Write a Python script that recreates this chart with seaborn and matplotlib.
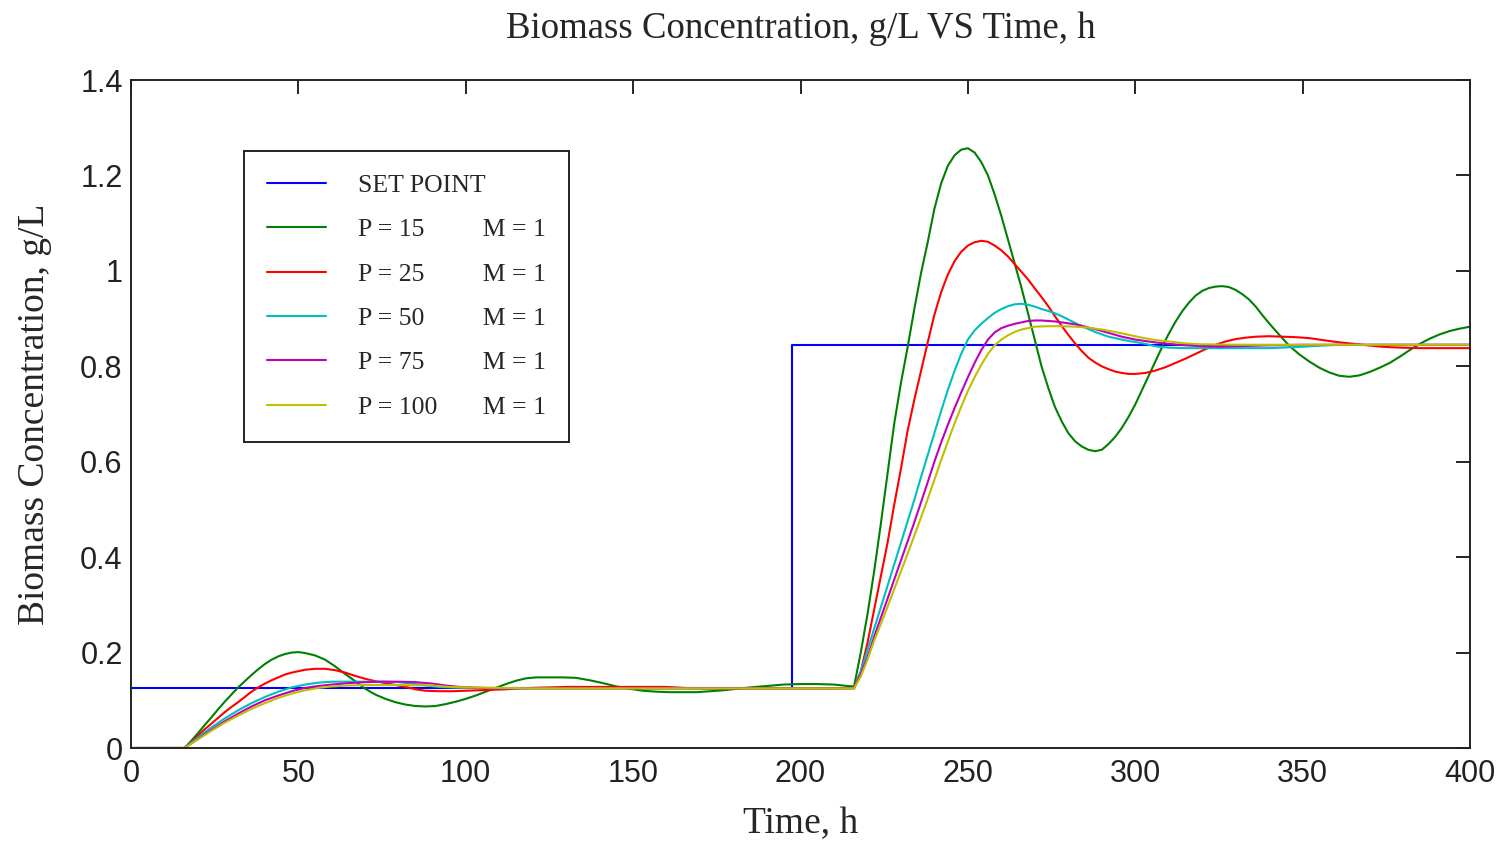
import matplotlib
matplotlib.use("Agg")
import matplotlib.pyplot as plt
import seaborn as sns
from matplotlib.ticker import FixedLocator, FuncFormatter

# ---------------- data ----------------
t_sp = [0, 197.6, 197.6, 400]
y_sp = [0.125, 0.125, 0.845, 0.845]

t_p15 = [0, 16, 18, 20, 22, 24, 26, 28, 30, 32, 34, 36, 38, 40, 42, 44, 46, 48, 50, 52,
         55, 58, 61, 64, 67, 70, 73, 76, 79, 82, 85, 88, 91, 94, 97, 100, 103, 106, 109, 112,
         115, 118, 121, 125, 129, 133, 137, 141, 145, 149, 153, 157, 161, 165, 169, 173, 177, 181, 185, 190,
         195, 200, 205, 210, 214, 216, 218, 220, 222, 224, 226, 228, 230, 232, 234, 236, 238, 240, 242, 244,
         246, 248, 250, 252, 254, 256, 258, 260, 262, 264, 266, 268, 270, 272, 274, 276, 278, 280, 282, 284,
         286, 288, 290, 292, 294, 296, 298, 300, 302, 304, 306, 308, 310, 312, 314, 316, 318, 320, 322, 324,
         326, 328, 330, 332, 334, 336, 338, 340, 343, 346, 349, 352, 355, 358, 361, 364, 367, 370, 373, 376,
         379, 382, 385, 388, 391, 394, 397, 400]
y_p15 = [0, 0, 0.015, 0.031, 0.048, 0.064, 0.081, 0.097, 0.112, 0.127, 0.140, 0.153, 0.165, 0.176, 0.185, 0.192, 0.197, 0.200, 0.201, 0.199,
         0.194, 0.185, 0.171, 0.155, 0.140, 0.124, 0.112, 0.103, 0.096, 0.091, 0.088, 0.087, 0.088, 0.092, 0.097, 0.103, 0.110, 0.118, 0.126, 0.134,
         0.141, 0.146, 0.148, 0.148, 0.148, 0.147, 0.142, 0.136, 0.129, 0.124, 0.120, 0.118, 0.117, 0.117, 0.117, 0.119, 0.121, 0.124, 0.127, 0.130,
         0.133, 0.134, 0.134, 0.133, 0.130, 0.129, 0.200, 0.280, 0.370, 0.470, 0.575, 0.680, 0.765, 0.840, 0.920, 0.995, 1.060, 1.130, 1.183, 1.220,
         1.242, 1.254, 1.257, 1.248, 1.228, 1.200, 1.160, 1.115, 1.065, 1.015, 0.965, 0.910, 0.855, 0.800, 0.755, 0.715, 0.685, 0.660, 0.643, 0.632,
         0.625, 0.622, 0.625, 0.637, 0.652, 0.671, 0.694, 0.720, 0.750, 0.780, 0.810, 0.840, 0.868, 0.893, 0.915, 0.933, 0.948, 0.958, 0.964, 0.967,
         0.968, 0.966, 0.960, 0.951, 0.940, 0.925, 0.907, 0.890, 0.866, 0.843, 0.825, 0.810, 0.797, 0.787, 0.780, 0.778, 0.781, 0.788, 0.797, 0.807,
         0.820, 0.834, 0.847, 0.858, 0.867, 0.874, 0.879, 0.883]

t_p25 = [0, 16, 18, 20, 22, 24, 26, 28, 30, 32, 34, 36, 38, 40, 42, 44, 46, 48, 50, 52,
         55, 58, 61, 64, 67, 70, 73, 76, 79, 82, 85, 88, 92, 96, 100, 104, 108, 112, 116, 120,
         125, 130, 140, 150, 160, 165, 170, 180, 190, 200, 210, 216, 218, 220, 222, 224, 226, 228, 230, 232,
         234, 236, 238, 240, 242, 244, 246, 248, 250, 252, 254, 256, 258, 260, 262, 264, 266, 268, 270, 272,
         274, 276, 278, 280, 282, 284, 286, 288, 290, 292, 294, 296, 298, 300, 303, 306, 309, 312, 315, 318,
         321, 324, 327, 330, 333, 336, 340, 344, 348, 352, 356, 360, 364, 368, 372, 376, 380, 385, 390, 395,
         400]
y_p25 = [0, 0, 0.012, 0.026, 0.039, 0.051, 0.063, 0.075, 0.086, 0.096, 0.107, 0.118, 0.127, 0.135, 0.142, 0.148, 0.154, 0.158, 0.161, 0.164,
         0.166, 0.166, 0.163, 0.158, 0.151, 0.145, 0.140, 0.136, 0.132, 0.128, 0.123, 0.120, 0.119, 0.119, 0.120, 0.121, 0.122, 0.123, 0.125, 0.126,
         0.127, 0.128, 0.128, 0.128, 0.128, 0.126, 0.125, 0.125, 0.125, 0.125, 0.125, 0.126, 0.160, 0.220, 0.290, 0.360, 0.430, 0.510, 0.585, 0.665,
         0.730, 0.790, 0.850, 0.908, 0.955, 0.992, 1.020, 1.040, 1.053, 1.060, 1.063, 1.061, 1.053, 1.043, 1.030, 1.014, 0.998, 0.982, 0.963, 0.945,
         0.926, 0.905, 0.885, 0.866, 0.848, 0.832, 0.818, 0.808, 0.800, 0.794, 0.789, 0.786, 0.784, 0.784, 0.786, 0.791, 0.798, 0.807, 0.816, 0.826,
         0.836, 0.845, 0.852, 0.857, 0.860, 0.862, 0.863, 0.862, 0.861, 0.859, 0.855, 0.851, 0.848, 0.845, 0.842, 0.840, 0.839, 0.838, 0.838, 0.838,
         0.838]

t_p50 = [0, 16, 20, 24, 28, 32, 36, 40, 44, 48, 52, 56, 60, 65, 70, 75, 80, 84, 88, 92,
         96, 100, 105, 110, 120, 140, 160, 180, 200, 216, 218, 220, 222, 224, 226, 228, 230, 232, 234, 236,
         238, 240, 242, 244, 246, 248, 250, 252, 254, 256, 258, 260, 262, 264, 266, 268, 270, 272, 274, 276,
         278, 280, 282, 284, 286, 288, 290, 292, 294, 296, 298, 300, 303, 306, 310, 315, 320, 330, 340, 350,
         360, 370, 380, 390, 400]
y_p50 = [0, 0, 0.022, 0.043, 0.062, 0.079, 0.094, 0.107, 0.118, 0.127, 0.133, 0.137, 0.139, 0.139, 0.139, 0.139, 0.138, 0.135, 0.131, 0.128,
         0.127, 0.126, 0.126, 0.125, 0.125, 0.125, 0.125, 0.125, 0.125, 0.125, 0.160, 0.205, 0.250, 0.295, 0.340, 0.385, 0.430, 0.475, 0.520, 0.568,
         0.614, 0.660, 0.706, 0.750, 0.790, 0.826, 0.856, 0.875, 0.889, 0.901, 0.912, 0.920, 0.926, 0.930, 0.931, 0.929, 0.925, 0.920, 0.916, 0.911,
         0.905, 0.898, 0.891, 0.884, 0.878, 0.872, 0.867, 0.862, 0.859, 0.856, 0.853, 0.851, 0.847, 0.842, 0.839, 0.838, 0.838, 0.838, 0.838, 0.841,
         0.845, 0.845, 0.845, 0.845, 0.845]

t_p75 = [0, 16, 20, 24, 28, 32, 36, 40, 44, 48, 52, 56, 60, 65, 70, 75, 80, 85, 90, 94,
         98, 104, 110, 130, 160, 190, 216, 218, 220, 222, 224, 226, 228, 230, 232, 234, 236, 238, 240, 242,
         244, 246, 248, 250, 252, 254, 256, 258, 260, 262, 264, 266, 268, 270, 272, 274, 276, 278, 280, 282,
         284, 286, 288, 290, 292, 294, 296, 298, 300, 303, 306, 310, 315, 320, 325, 330, 340, 350, 375, 400]
y_p75 = [0, 0, 0.019, 0.038, 0.056, 0.072, 0.087, 0.100, 0.110, 0.119, 0.126, 0.130, 0.133, 0.136, 0.138, 0.139, 0.139, 0.138, 0.135, 0.131,
         0.128, 0.126, 0.125, 0.125, 0.125, 0.125, 0.125, 0.155, 0.190, 0.233, 0.273, 0.313, 0.353, 0.393, 0.433, 0.473, 0.515, 0.557, 0.600, 0.640,
         0.677, 0.712, 0.745, 0.777, 0.807, 0.834, 0.856, 0.871, 0.880, 0.885, 0.889, 0.892, 0.895, 0.896, 0.896, 0.895, 0.894, 0.892, 0.890, 0.888,
         0.885, 0.881, 0.878, 0.874, 0.870, 0.866, 0.862, 0.859, 0.856, 0.853, 0.850, 0.847, 0.844, 0.842, 0.841, 0.842, 0.844, 0.845, 0.845, 0.845]

t_p100 = [0, 16, 20, 24, 28, 32, 36, 40, 44, 48, 52, 56, 60, 65, 70, 80, 90, 95, 100, 110,
          120, 150, 180, 216, 218, 220, 222, 224, 226, 228, 230, 232, 234, 236, 238, 240, 242, 244, 246, 248,
          250, 252, 254, 256, 258, 260, 262, 264, 266, 268, 270, 274, 278, 282, 286, 290, 294, 298, 302, 306,
          310, 315, 320, 330, 340, 370, 400]
y_p100 = [0, 0, 0.018, 0.036, 0.053, 0.068, 0.082, 0.094, 0.105, 0.114, 0.121, 0.126, 0.129, 0.131, 0.132, 0.132, 0.131, 0.128, 0.127, 0.126,
          0.125, 0.125, 0.125, 0.125, 0.150, 0.185, 0.225, 0.260, 0.296, 0.333, 0.370, 0.407, 0.445, 0.483, 0.522, 0.562, 0.603, 0.642, 0.680, 0.715,
          0.748, 0.777, 0.803, 0.826, 0.844, 0.856, 0.865, 0.872, 0.877, 0.880, 0.883, 0.884, 0.884, 0.883, 0.881, 0.877, 0.872, 0.866, 0.860, 0.855,
          0.852, 0.848, 0.846, 0.845, 0.845, 0.845, 0.845]

labels = ["SET POINT",
          "P = 15\u2007       M = 1",
          "P = 25\u2007       M = 1",
          "P = 50\u2007       M = 1",
          "P = 75\u2007       M = 1",
          "P = 100       M = 1"]
colors = ["#0000FF", "#008000", "#FF0000", "#00BFBF", "#BF00BF", "#BFBF00"]
x_ticks = [0, 50, 100, 150, 200, 250, 300, 350, 400]
y_ticks = [0, 0.2, 0.4, 0.6, 0.8, 1.0, 1.2, 1.4]

# ---------------- plot ----------------
sns.set_style("white")
plt.rcParams["font.family"] = ["Liberation Serif", "DejaVu Serif"]

fig = plt.figure(figsize=(15.03, 8.46), dpi=100)
ax = fig.add_axes([131 / 1503, 1 - 748 / 846, 1339 / 1503, 668 / 846])

series = [(t_sp, y_sp), (t_p15, y_p15), (t_p25, y_p25), (t_p50, y_p50), (t_p75, y_p75), (t_p100, y_p100)]
for (tx, vy), lab, col in zip(series, labels, colors):
    assert len(tx) == len(vy), lab
    sns.lineplot(x=tx, y=vy, ax=ax, color=col, linewidth=1.5, label=lab,
                 sort=False, estimator=None)

ax.set_xlim(0, 400)
ax.set_ylim(0, 1.4)
ax.xaxis.set_major_locator(FixedLocator(x_ticks))
ax.yaxis.set_major_locator(FixedLocator(y_ticks))
ax.yaxis.set_major_formatter(FuncFormatter(lambda v, p: "%g" % v))
ax.xaxis.set_major_formatter(FuncFormatter(lambda v, p: "%g" % v))

ax.tick_params(axis="both", direction="in", length=10, width=1.2, color="black",
               top=True, right=True, labelsize=22)
ax.tick_params(axis="x", pad=8)
ax.tick_params(axis="y", pad=6)
for lbl in ax.get_xticklabels() + ax.get_yticklabels():
    lbl.set_family(["Liberation Sans Narrow", "Liberation Sans"])
    lbl.set_color("#222222")

for s in ax.spines.values():
    s.set_visible(True)
    s.set_color("#222222")
    s.set_linewidth(1.4)

ax.set_title("Biomass Concentration, g/L VS Time, h", fontsize=26.5, pad=30)
ax.set_xlabel("Time, h", fontsize=27, labelpad=13)
ax.set_ylabel("Biomass Concentration, g/L", fontsize=27, labelpad=20)

handles, labs = ax.get_legend_handles_labels()
leg = ax.legend(handles, labs, loc="upper left",
                bbox_to_anchor=((244 - 131) / 1339, (748 - 151) / 668),
                borderaxespad=0, fontsize=18.5, frameon=True, fancybox=False,
                handlelength=2.3, handletextpad=1.25, borderpad=0.9,
                labelspacing=0.83, edgecolor="#222222", framealpha=1)
leg.get_frame().set_linewidth(1.4)

fig.savefig("out.png", dpi=100)
